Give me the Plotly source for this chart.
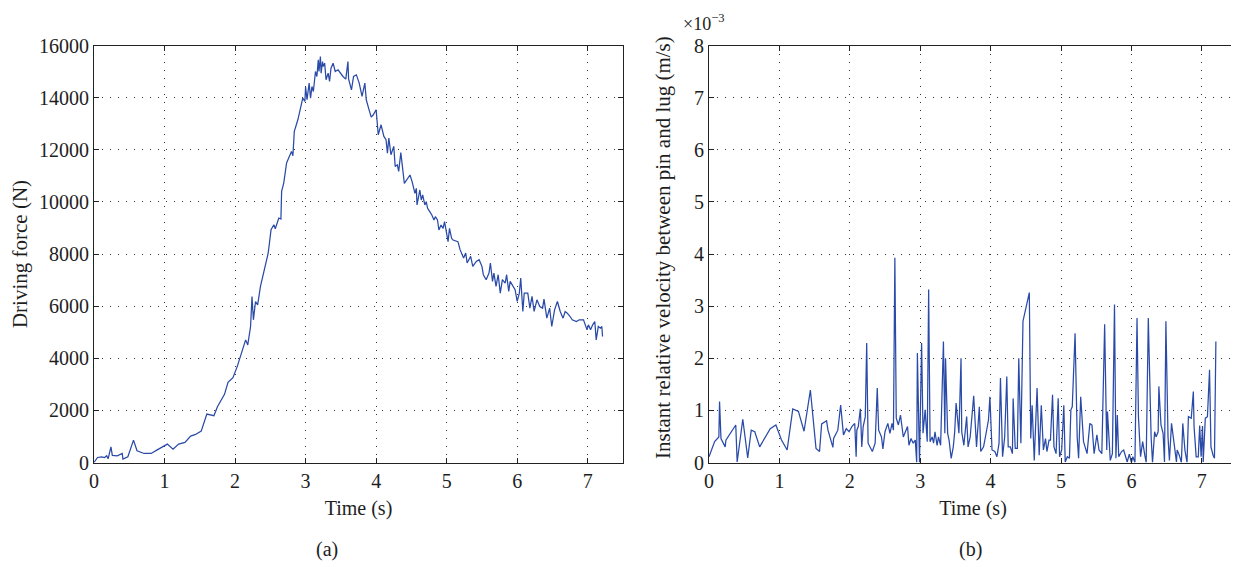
import plotly.graph_objects as go

# ---- Panel (a): driving force ----
force_t = [0, 0.05, 0.11, 0.15, 0.18, 0.2, 0.24, 0.26, 0.33, 0.4, 0.41, 0.48, 0.56, 0.61, 0.71, 0.81,
           0.89, 1.04, 1.12, 1.2, 1.29, 1.37, 1.44, 1.52, 1.6, 1.65, 1.7, 1.75, 1.82, 1.85, 1.9, 1.97,
           2.03, 2.09, 2.13, 2.15, 2.18, 2.22, 2.24, 2.26, 2.29, 2.32, 2.36, 2.42, 2.47, 2.51, 2.55,
           2.57, 2.62, 2.65, 2.66, 2.69, 2.73, 2.76, 2.8, 2.82, 2.84, 2.89, 2.94, 2.96, 2.99, 3.0,
           3.02, 3.05, 3.07, 3.09, 3.11, 3.14, 3.16, 3.18, 3.19, 3.21, 3.22, 3.24, 3.25, 3.27, 3.29,
           3.32, 3.34, 3.36, 3.39, 3.42, 3.46, 3.49, 3.53, 3.57, 3.6, 3.61, 3.65, 3.68, 3.72, 3.76,
           3.8, 3.84, 3.86, 3.9, 3.93, 3.96, 4.0, 4.03, 4.07, 4.11, 4.14, 4.16, 4.18, 4.21, 4.25,
           4.27, 4.3, 4.32, 4.35, 4.4, 4.48, 4.51, 4.55, 4.57, 4.58, 4.62, 4.64, 4.66, 4.69, 4.71,
           4.73, 4.76, 4.79, 4.82, 4.84, 4.87, 4.89, 4.92, 4.95, 4.97, 5.0, 5.02, 5.04, 5.07, 5.09,
           5.14, 5.16, 5.19, 5.24, 5.27, 5.29, 5.34, 5.37, 5.42, 5.46, 5.5, 5.52, 5.56, 5.6, 5.62,
           5.65, 5.67, 5.7, 5.73, 5.76, 5.79, 5.83, 5.85, 5.88, 5.9, 5.94, 5.97, 6.0, 6.03, 6.05,
           6.08, 6.1, 6.15, 6.18, 6.21, 6.24, 6.28, 6.32, 6.36, 6.38, 6.42, 6.46, 6.49, 6.53, 6.57,
           6.61, 6.65, 6.68, 6.71, 6.75, 6.78, 6.84, 6.88, 6.94, 6.99, 7.01, 7.04, 7.07, 7.1, 7.12,
           7.15, 7.18, 7.2, 7.21]
force_n = [0, 192, 218, 192, 256, 141, 603, 270, 256, 346, 128, 218, 859, 449, 346, 346,
           474, 705, 513, 705, 769, 1013, 1077, 1205, 1859, 1820, 1795, 2141, 2461, 2615, 3077, 3256,
           3679, 4192, 4512, 4705, 4512, 5218, 6372, 5474, 6179, 6051, 6756, 7399, 8038, 8933, 9124,
           8971, 9380, 9342, 10402, 10722, 11489, 11680, 11936, 11770, 12703, 13150, 13725, 13981, 13853, 14403,
           13917, 14556, 13981, 14428, 14236, 15003, 14811, 15450, 15003, 15578, 14939, 15386, 15195, 15322, 14684,
           14939, 14620, 15131, 15322, 15003, 15067, 14939, 14811, 14709, 15386, 14709, 14300, 14811, 14875, 14556,
           14044, 14556, 13917, 13533, 13252, 13342, 13533, 12575, 12958, 12511, 12383, 11872, 12447, 11808, 12128,
           11361, 11425, 11170, 11889, 10712, 11032, 10776, 10329, 10520, 9881, 10456, 10073, 10264, 9881, 10009,
           9753, 9625, 9497, 9305, 9433, 9305, 8921, 9113, 8985, 9241, 8857, 8474, 8985, 8602, 8538,
           8512, 8474, 8166, 7846, 8038, 7654, 7910, 7525, 7718, 7782, 7525, 7205, 7013, 7269, 7654,
           6949, 7269, 6756, 7205, 6500, 7013, 6884, 7205, 6564, 6949, 6756, 6628, 6179, 6500, 7077,
           5795, 6500, 6500, 5923, 6372, 5795, 6243, 5987, 5923, 6269, 5538, 5923, 5218, 5859, 6179,
           5795, 5538, 5795, 5731, 5602, 5474, 5410, 5474, 5474, 5090, 5282, 5090, 5282, 5410, 4705,
           5218, 5154, 5218, 4833]

# ---- Panel (b): instant relative velocity (x 1e-3 m/s) ----
vel_t = [0, 0.08, 0.14, 0.15, 0.17, 0.23, 0.24, 0.38, 0.4, 0.48, 0.55, 0.6, 0.65, 0.72, 0.87, 0.95,
         1.03, 1.11, 1.19, 1.27, 1.35, 1.44, 1.52, 1.57, 1.6, 1.67, 1.69, 1.76, 1.77, 1.83, 1.87, 1.91,
         1.95, 1.99, 2.03, 2.07, 2.09, 2.1, 2.12, 2.15, 2.17, 2.19, 2.22, 2.24, 2.26, 2.32, 2.36, 2.39,
         2.41, 2.45, 2.47, 2.5, 2.54, 2.57, 2.6, 2.62, 2.64, 2.66, 2.69, 2.72, 2.76, 2.79, 2.82, 2.84,
         2.87, 2.9, 2.93, 2.95, 2.96, 2.99, 3.02, 3.04, 3.07, 3.1, 3.12, 3.14, 3.17, 3.19, 3.21, 3.24,
         3.26, 3.29, 3.3, 3.33, 3.35, 3.36, 3.39, 3.41, 3.44, 3.47, 3.49, 3.51, 3.55, 3.58, 3.59, 3.62,
         3.66, 3.68, 3.71, 3.76, 3.8, 3.84, 3.86, 3.9, 3.94, 3.97, 3.99, 4.02, 4.06, 4.09, 4.12, 4.14,
         4.17, 4.2, 4.23, 4.25, 4.28, 4.31, 4.32, 4.35, 4.38, 4.4, 4.43, 4.46, 4.55, 4.57, 4.59, 4.62,
         4.66, 4.69, 4.72, 4.75, 4.78, 4.8, 4.83, 4.85, 4.88, 4.9, 4.93, 4.96, 4.98, 5.01, 5.04, 5.06,
         5.09, 5.12, 5.14, 5.16, 5.2, 5.23, 5.25, 5.28, 5.32, 5.37, 5.41, 5.44, 5.47, 5.51, 5.54, 5.58,
         5.62, 5.65, 5.66, 5.7, 5.73, 5.76, 5.78, 5.8, 5.82, 5.86, 5.89, 5.91, 5.94, 5.97, 6.0, 6.02,
         6.05, 6.08, 6.1, 6.13, 6.16, 6.19, 6.21, 6.24, 6.28, 6.3, 6.33, 6.35, 6.38, 6.39, 6.42, 6.45,
         6.47, 6.49, 6.52, 6.54, 6.57, 6.61, 6.64, 6.65, 6.68, 6.71, 6.73, 6.76, 6.79, 6.81, 6.85, 6.88,
         6.89, 6.92, 6.95, 6.97, 6.99, 7.01, 7.02, 7.05, 7.08, 7.11, 7.13, 7.16, 7.18, 7.2]
vel_e3 = [0.11, 0.40, 0.49, 1.17, 0.46, 0.30, 0.43, 0.72, 0.01, 0.83, 0.09, 0.62, 0.59, 0.30, 0.65, 0.72,
          0.43, 0.24, 1.03, 0.98, 0.60, 1.39, 0.27, 0.21, 0.74, 0.80, 0.62, 0.29, 0.46, 0.62, 1.10, 0.53,
          0.65, 0.59, 0.69, 0.75, 0.11, 0.62, 0.69, 1.03, 0.30, 0.69, 0.88, 2.29, 0.37, 0.21, 0.37, 1.43,
          0.62, 0.49, 0.26, 0.59, 0.75, 0.56, 0.75, 0.62, 3.93, 0.85, 0.72, 0.91, 0.49, 0.59, 0.69, 0.33,
          0.46, 0.37, 0.43, 0.0, 2.10, 0.0, 2.29, 0.56, 1.01, 0.40, 3.32, 0.40, 0.49, 0.37, 0.59, 0.33,
          0.49, 0.33, 0.85, 2.32, 0.56, 2.00, 0.56, 0.43, 0.08, 0.30, 0.59, 1.14, 0.56, 2.00, 0.59, 0.33,
          0.88, 0.30, 0.49, 1.28, 0.30, 1.07, 0.21, 0.30, 0.59, 0.82, 1.26, 0.24, 0.21, 0.11, 0.37, 1.62,
          0.11, 0.49, 1.65, 0.30, 0.30, 0.17, 1.23, 0.27, 0.27, 2.00, 0.37, 2.71, 3.26, 0.46, 1.10, 0.04,
          1.43, 0.14, 1.10, 0.24, 0.46, 0.21, 0.43, 0.43, 1.30, 0.30, 0.17, 1.23, 0.11, 0.24, 1.10, 0.01,
          0.11, 0.08, 1.01, 1.07, 2.48, 0.49, 0.08, 1.26, 0.40, 0.17, 0.75, 0.72, 0.17, 0.53, 0.24, 0.17,
          2.65, 0.24, 0.98, 0.04, 0.17, 3.03, 0.08, 0.91, 0.11, 0.21, 0.24, 0.14, 0.01, 0.16, 0.0, 0.11,
          0.0, 2.77, 0.88, 0.11, 0.40, 0.14, 0.0, 2.77, 0.49, 0.0, 0.59, 0.49, 0.59, 1.46, 0.72, 0.56,
          0.01, 2.71, 0.49, 0.04, 0.75, 0.33, 0.01, 0.24, 0.14, 0.0, 0.75, 0.24, 0.0, 0.88, 0.85, 1.36,
          0.69, 0.11, 0.11, 0.71, 0.11, 0.70, 0.01, 0.85, 0.88, 1.78, 0.30, 0.14, 0.08, 2.32]

x_ticks = [0, 1, 2, 3, 4, 5, 6, 7]
force_ticks = [0, 2000, 4000, 6000, 8000, 10000, 12000, 14000, 16000]
vel_ticks = [0, 1, 2, 3, 4, 5, 6, 7, 8]

LINE = "#2a4aa8"
FONT = "Liberation Serif"
TXT = "#1e1e1e"
OFF = 8                      # the page places the figure 8 px in from the window corner
W, H = 1239 - OFF, 567 - OFF


def px(x):
    return (x - OFF) / W


def py(y):
    return 1 - (y - OFF) / H


fig = go.Figure()
fig.add_trace(go.Scatter(x=force_t, y=force_n, mode="lines",
                         line=dict(color=LINE, width=1.25), xaxis="x", yaxis="y", showlegend=False))
fig.add_trace(go.Scatter(x=vel_t, y=vel_e3, mode="lines",
                         line=dict(color=LINE, width=1.25), xaxis="x2", yaxis="y2", showlegend=False))

axis_common = dict(
    showline=True, linecolor="#222", linewidth=1, mirror="ticks",
    ticks="inside", ticklen=5, tickcolor="#222", tickwidth=1,
    showgrid=True, gridcolor="#333", gridwidth=1, griddash="1px,7px",
    zeroline=False, automargin=False, tickformat="d",
    tickfont=dict(family=FONT, size=20, color=TXT),
)

yd = [py(462.5), py(45.5)]

fig.update_layout(
    width=W, height=H,
    margin=dict(l=0, r=0, t=0, b=0, autoexpand=False),
    paper_bgcolor="white", plot_bgcolor="white",
    xaxis=dict(domain=[px(94), px(623)], range=[0, 7.5], tickvals=x_ticks, anchor="y",
               title=dict(text="Time (s)", font=dict(family=FONT, size=20, color=TXT), standoff=10),
               **axis_common),
    yaxis=dict(domain=yd, range=[0, 16000], tickvals=force_ticks, anchor="x",
               title=dict(text="Driving force (N)", font=dict(family=FONT, size=21, color=TXT), standoff=10),
               **axis_common),
    xaxis2=dict(domain=[px(709), px(1237)], range=[0, 7.5], tickvals=x_ticks, anchor="y2",
                title=dict(text="Time (s)", font=dict(family=FONT, size=20, color=TXT), standoff=10),
                **axis_common),
    yaxis2=dict(domain=yd, range=[0, 8], tickvals=vel_ticks, anchor="x2", **axis_common),
    annotations=[
        dict(text="Instant relative velocity between pin and lug (m/s)", textangle=-90,
             x=px(663), y=py(248), xref="paper", yref="paper", showarrow=False,
             xanchor="center", yanchor="middle", font=dict(family=FONT, size=21, color=TXT)),
        dict(text="(a)", x=px(327), y=py(549), xref="paper", yref="paper", showarrow=False,
             xanchor="center", yanchor="middle", font=dict(family=FONT, size=20, color=TXT)),
        dict(text="(b)", x=px(970), y=py(549), xref="paper", yref="paper", showarrow=False,
             xanchor="center", yanchor="middle", font=dict(family=FONT, size=20, color=TXT)),
        dict(text="×10<sup>−3</sup>", x=px(681), y=py(22), xref="paper", yref="paper", showarrow=False,
             xanchor="left", yanchor="middle", font=dict(family=FONT, size=18, color=TXT)),
    ],
)

fig.write_html("out.html")
